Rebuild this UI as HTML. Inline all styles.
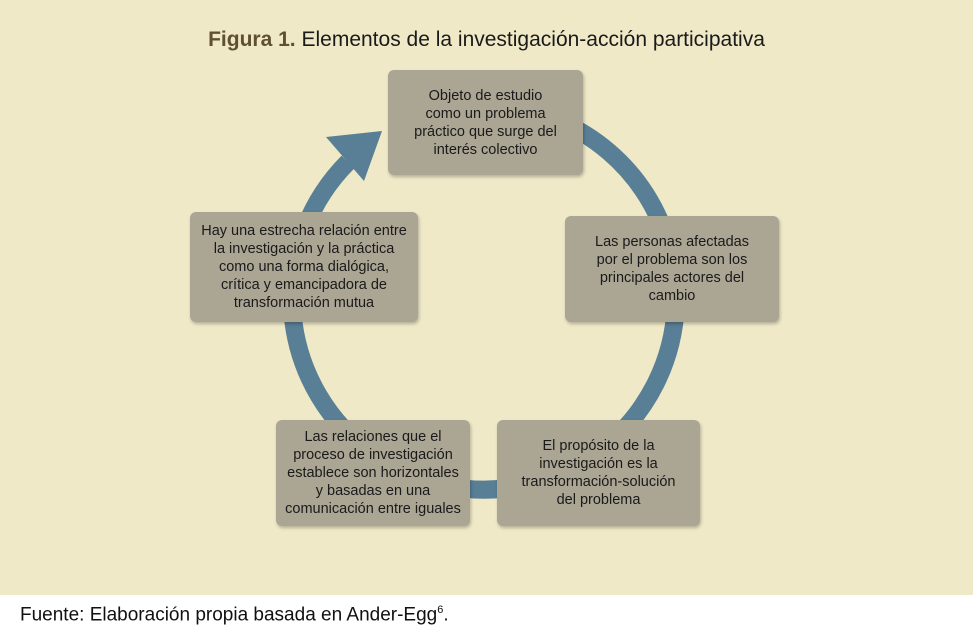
<!DOCTYPE html>
<html><head><meta charset="utf-8"><style>
body{margin:0;width:973px;height:634px;background:#fff;position:relative;overflow:hidden;font-family:"Liberation Sans",sans-serif}
.bg{position:absolute;left:0;top:0;width:973px;height:595px;background:#EFE9C8}
.t{position:absolute;left:0;width:973px;top:28px;text-align:center;font-size:21px;color:#1a1a1a}
.t b{color:#5e5030}
.box{position:absolute;background:#ABA594;border-radius:6px;box-shadow:1px 2px 3px rgba(0,0,0,.25);display:flex;align-items:center;justify-content:center;text-align:center;font-size:14.5px;line-height:18px;color:#1a1a1a}
.cap{position:absolute;left:20px;top:604px;font-size:19px;color:#111}
</style></head><body>
<div class="bg"></div>
<div class="t"><b>Figura 1.</b> Elementos de la investigación-acción participativa</div>
<svg width="973" height="634" style="position:absolute;left:0;top:0">
<path d="M 348 162 A 192 192 0 1 0 540 114" fill="none" stroke="#587F95" stroke-width="18"/>
<polygon points="382,131 326,137 364,181" fill="#587F95"/>
</svg>
<div class="box" style="left:388px;top:70px;width:195px;height:105px"><div>Objeto de estudio<br>como un problema<br>práctico que surge del<br>interés colectivo</div></div>
<div class="box" style="left:565px;top:216px;width:214px;height:106px"><div>Las personas afectadas<br>por el problema son los<br>principales actores del<br>cambio</div></div>
<div class="box" style="left:497px;top:420px;width:203px;height:106px"><div>El propósito de la<br>investigación es la<br>transformación-solución<br>del problema</div></div>
<div class="box" style="left:276px;top:420px;width:194px;height:106px"><div>Las relaciones que el<br>proceso de investigación<br>establece son horizontales<br>y basadas en una<br>comunicación entre iguales</div></div>
<div class="box" style="left:190px;top:212px;width:228px;height:110px"><div>Hay una estrecha relación entre<br>la investigación y la práctica<br>como una forma dialógica,<br>crítica y emancipadora de<br>transformación mutua</div></div>
<div class="cap">Fuente: Elaboración propia basada en Ander-Egg<sup style="font-size:11px">6</sup>.</div>
</body></html>
